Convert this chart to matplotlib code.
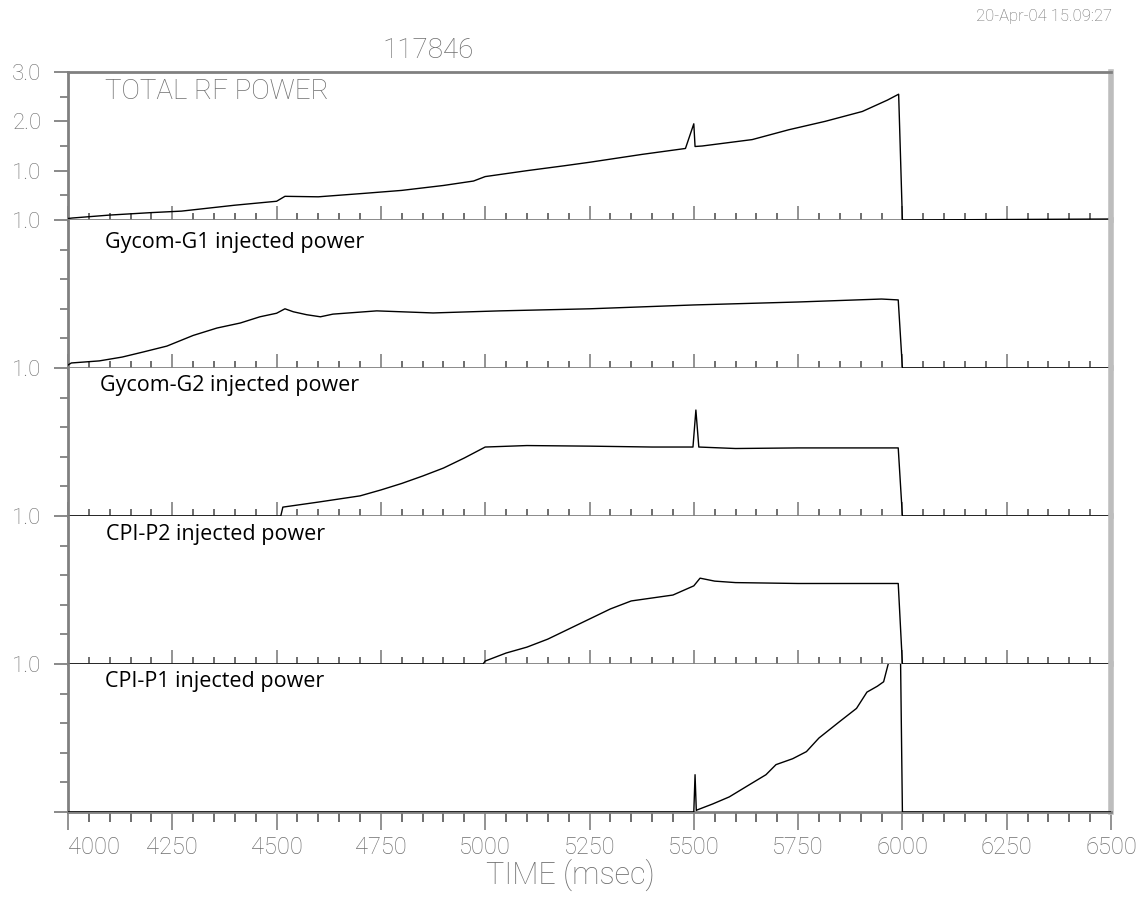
"""
Shot 117846 - RF power traces (total + four gyrotrons), stacked panels
sharing the time axis.
"""
import matplotlib.pyplot as plt
from matplotlib.ticker import MultipleLocator

plt.rcParams['font.family'] = ['Roboto', 'DejaVu Sans']

SHOT = "117846"
STAMP = "20-Apr-04 15.09:27"
XTICKS = [4000, 4250, 4500, 4750, 5000, 5250, 5500, 5750, 6000, 6250, 6500]

# total RF power (scale 0..3)
t_total = [4000, 4010, 4100, 4200, 4272, 4400, 4500, 4520, 4600, 4710, 4800,
           4900, 4972, 5000, 5100, 5190, 5250, 5376, 5480, 5500, 5503, 5520,
           5640, 5728, 5815, 5904, 5964, 5991, 6000, 6500]
v_total = [0.03, 0.04, 0.1, 0.15, 0.18, 0.3, 0.38, 0.48, 0.47, 0.54, 0.6,
           0.7, 0.79, 0.88, 1.0, 1.1, 1.17, 1.33, 1.45, 1.95, 1.49, 1.5,
           1.63, 1.83, 2.0, 2.2, 2.43, 2.55, 0.0, 0.02]

# gyrotron traces (scale 0..5)
t_g1 = [4000, 4008, 4075, 4130, 4180, 4237, 4300, 4357, 4413, 4460, 4500,
        4520, 4540, 4572, 4605, 4635, 4740, 4875, 5035, 5250, 5500, 5750,
        5950, 5990, 6000, 6500]
v_g1 = [0.1, 0.17, 0.24, 0.37, 0.54, 0.74, 1.1, 1.35, 1.52, 1.73, 1.85,
        2.0, 1.9, 1.8, 1.73, 1.82, 1.93, 1.86, 1.93, 2.0, 2.13, 2.23,
        2.33, 2.3, 0.0, 0.0]

t_g2 = [4000, 4510, 4515, 4600, 4700, 4750, 4800, 4850, 4900, 4950, 5000,
        5100, 5250, 5400, 5498, 5505, 5512, 5600, 5750, 5990, 6000, 6500]
v_g2 = [0.0, 0.0, 0.3, 0.47, 0.68, 0.88, 1.1, 1.35, 1.62, 1.96, 2.33,
        2.38, 2.36, 2.33, 2.33, 3.58, 2.33, 2.28, 2.3, 2.3, 0.0, 0.0]

t_p2 = [4000, 4995, 5000, 5050, 5100, 5150, 5200, 5250, 5300, 5350, 5400,
        5450, 5500, 5515, 5550, 5600, 5750, 5900, 5990, 6000, 6500]
v_p2 = [0.0, 0.0, 0.1, 0.37, 0.57, 0.84, 1.18, 1.52, 1.86, 2.13, 2.23,
        2.33, 2.64, 2.9, 2.8, 2.75, 2.72, 2.72, 2.72, 0.0, 0.0]

t_p1 = [4000, 5500, 5503, 5506, 5508, 5545, 5585, 5633, 5673, 5697, 5737,
        5770, 5800, 5850, 5890, 5915, 5940, 5955, 5966, 5995, 6000, 6500]
v_p1 = [0.0, 0.0, 1.26, 0.05, 0.07, 0.27, 0.51, 0.92, 1.26, 1.6, 1.8,
        2.04, 2.5, 3.06, 3.5, 4.05, 4.25, 4.4, 5.0, 5.8, 0.0, 0.0]

panels = [
    ("TOTAL RF POWER", t_total, v_total),
    ("Gycom-G1 injected power", t_g1, v_g1),
    ("Gycom-G2 injected power", t_g2, v_g2),
    ("CPI-P2 injected power", t_p2, v_p2),
    ("CPI-P1 injected power", t_p1, v_p1),
]
label_pos = [(0.035, 0.866), (0.035, 0.85), (0.031, 0.88), (0.036, 0.877), (0.035, 0.88)]

GREY = "#6e6e6e"
SPINE = "#808080"

fig = plt.figure(figsize=(11.4, 8.97), dpi=100)
gs = fig.add_gridspec(5, 1, left=68 / 1140, right=1111 / 1140,
                      top=1 - 72 / 897, bottom=1 - 812 / 897, hspace=0)

for i, (name, t, v) in enumerate(panels):
    ax = fig.add_subplot(gs[i])
    # trace on top of the frame so the zero baseline stays dark
    ax.plot(t, v, color="black", linewidth=1.0, zorder=3)
    ax.set_xlim(4000, 6500)
    ax.xaxis.set_major_locator(MultipleLocator(250))
    ax.xaxis.set_minor_locator(MultipleLocator(50))

    for side in ["left", "bottom", "top"]:
        ax.spines[side].set_color(SPINE)
        ax.spines[side].set_linewidth(2.0)
    ax.spines["right"].set_color("#bdbdbd")
    ax.spines["right"].set_linewidth(4.0)
    if i > 0:
        ax.spines["top"].set_visible(False)

    if i == 0:
        ax.set_ylim(0, 3)
        ax.set_yticks([0, 1, 2, 3], labels=["1.0", "1.0", "2.0", "3.0"])
        ax.set_yticks([0.5, 1.5, 2.5], minor=True)
        ax.text(*label_pos[i], name, transform=ax.transAxes, va="center",
                fontsize=20, color=GREY, fontweight="light")
    else:
        ax.set_ylim(0, 5)
        ax.set_yticks([0], labels=["1.0" if i < 4 else ""])
        ax.set_yticks([1, 2, 3, 4], minor=True)
        ax.text(*label_pos[i], name, transform=ax.transAxes, va="center",
                fontsize=15.5, color="black", family=["Open Sans", "DejaVu Sans"])

    ax.tick_params(axis="y", which="major", direction="out", length=10,
                   width=1.3, color=SPINE, pad=9, labelsize=16, labelcolor=GREY)
    ax.tick_params(axis="y", which="minor", direction="out", length=6,
                   width=1.3, color=SPINE)
    for lab in ax.get_yticklabels():
        lab.set_fontweight("light")

    if i < 4:
        ax.tick_params(axis="x", which="major", direction="in", length=10,
                       width=1.2, color=SPINE, labelbottom=False)
        ax.tick_params(axis="x", which="minor", direction="in", length=5,
                       width=1.2, color="#555555")
    else:
        ax.set_xticks(XTICKS, labels=[str(x) for x in XTICKS])
        ax.tick_params(axis="x", which="major", direction="out", length=13,
                       width=1.2, color=SPINE, pad=4, labelsize=17, labelcolor=GREY)
        ax.tick_params(axis="x", which="minor", direction="out", length=7,
                       width=1.2, color="#555555")
        for lab in ax.get_xticklabels():
            lab.set_fontweight("light")
        ax.get_xticklabels()[0].set_horizontalalignment("left")
        ax.set_xlabel("TIME (msec)", fontsize=22, color=GREY,
                      fontweight="light", labelpad=0)
        ax.xaxis.label.set_x(0.482)

fig.text(428 / 1140, 1 - 50 / 897, SHOT, ha="center", va="center",
         fontsize=20, color=GREY, fontweight="light")
fig.text(1112 / 1140, 1 - 16 / 897, STAMP, ha="right", va="center",
         fontsize=12, color=GREY, fontweight="light")

fig.savefig("out.png", dpi=100)
